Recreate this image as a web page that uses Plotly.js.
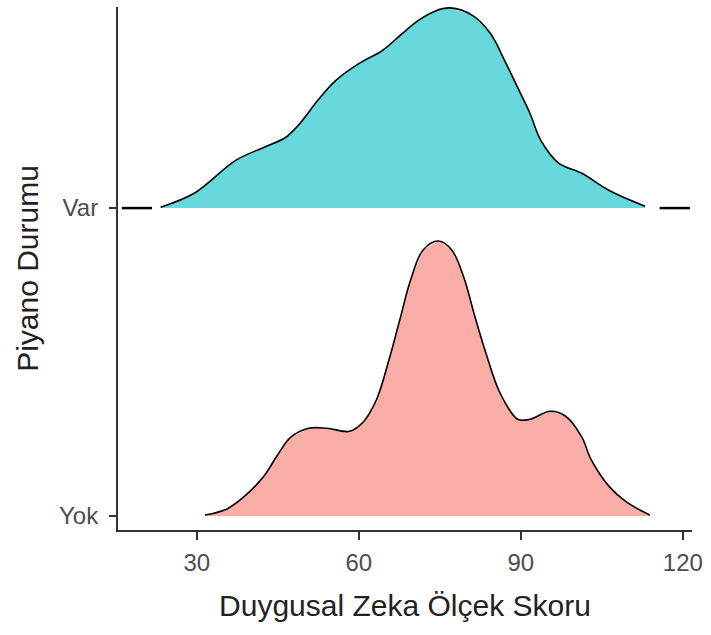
<!DOCTYPE html>
<html><head><meta charset="utf-8">
<script src="https://cdn.plot.ly/plotly-3.0.1.min.js"></script>
<style>html,body{margin:0;padding:0;background:#fff}</style>
</head><body><div id="chart" style="width:711px;height:635px"></div>
<script>
// Groups (bottom to top)
const categories = ['Yok', 'Var'];
// Scaled density heights
const yokX = [31.5, 35.6, 38.9, 42.4, 44.8, 47.4, 50.7, 54.1, 58.3, 60.9, 63.3, 65.6, 67.6, 69.6, 71.9, 74.8, 77.2, 79.4, 81.5, 83.5, 86.1, 89.4, 91.7, 95.4, 98.3, 101.3, 103.0, 106.3, 109.6, 113.9];
const yokDensity = [0.003, 0.023, 0.065, 0.129, 0.194, 0.256, 0.285, 0.285, 0.275, 0.307, 0.379, 0.508, 0.638, 0.767, 0.864, 0.893, 0.864, 0.777, 0.647, 0.531, 0.401, 0.314, 0.314, 0.340, 0.324, 0.256, 0.184, 0.097, 0.045, 0.003];
const varX = [23.3, 29.6, 37.2, 42.4, 46.5, 49.1, 52.4, 55.7, 60.0, 64.3, 67.6, 70.9, 74.3, 76.9, 81.1, 84.4, 87.0, 89.4, 91.7, 93.7, 97.0, 101.3, 106.3, 113.0];
const varDensity = [0.003, 0.049, 0.155, 0.197, 0.230, 0.275, 0.350, 0.414, 0.469, 0.511, 0.560, 0.608, 0.641, 0.650, 0.625, 0.566, 0.479, 0.392, 0.307, 0.220, 0.146, 0.113, 0.058, 0.006];
const varTailLeft = [16.1, 21.7];
const varTailRight = [115.7, 121.3];
const xTickVals = [30, 60, 90, 120];
const xTickText = ['30', '60', '90', '120'];

const groups = [
  {name: 'Var', base: 2, x: varX, d: varDensity, color: '#66D7DB'},
  {name: 'Yok', base: 1, x: yokX, d: yokDensity, color: '#F9ADA7'}
];

const traces = [];
groups.forEach(g => {
  const top = g.d.map(v => g.base + v);
  traces.push({
    x: g.x.concat(g.x.slice().reverse()),
    y: top.concat(g.x.map(() => g.base)),
    mode: 'lines', fill: 'toself', fillcolor: g.color,
    line: {width: 0, color: g.color}, hoverinfo: 'skip', showlegend: false
  });
  traces.push({
    x: g.x, y: top, mode: 'lines',
    line: {color: '#000', width: 1.6, shape: 'spline', smoothing: 1},
    showlegend: false
  });
});
[varTailLeft, varTailRight].forEach(t => {
  traces.push({x: t, y: t.map(() => 2), mode: 'lines', line: {color: '#000', width: 2.5}, showlegend: false});
});

const layout = {
  width: 711, height: 635,
  margin: {l: 118, r: 19, t: 7, b: 105},
  paper_bgcolor: '#fff', plot_bgcolor: '#fff',
  font: {family: 'Liberation Sans, Arial, sans-serif', color: '#333'},
  xaxis: {
    range: [15.4, 121.7], tickvals: xTickVals, ticktext: xTickText,
    showgrid: false, zeroline: false, showline: true, linecolor: '#333', linewidth: 2,
    ticks: 'outside', ticklen: 8, tickwidth: 2, tickcolor: '#333', ticklabelstandoff: 2,
    tickfont: {size: 24, color: '#4d4d4d'},
    title: {text: 'Duygusal Zeka Ölçek Skoru', font: {size: 30, color: '#222'}, standoff: 20}
  },
  yaxis: {
    range: [0.9545, 2.653], tickvals: [1, 2], ticktext: categories,
    showgrid: false, zeroline: false, showline: true, linecolor: '#333', linewidth: 2,
    ticks: 'outside', ticklen: 7, tickwidth: 2, tickcolor: '#333', ticklabelstandoff: 6,
    tickfont: {size: 24, color: '#4d4d4d'},
    title: {text: 'Piyano Durumu', font: {size: 30, color: '#222'}, standoff: 12}
  }
};
Plotly.newPlot('chart', traces, layout, {displayModeBar: false, staticPlot: true});
</script>
</body></html>
